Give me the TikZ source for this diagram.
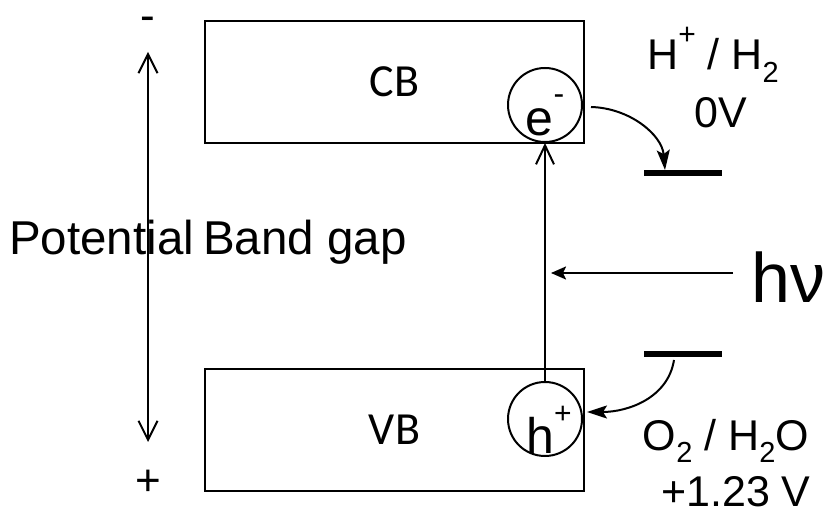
\documentclass[tikz,border=0pt]{standalone}
\usepackage{fontspec}
\setmainfont{Liberation Sans}
\newfontfamily\carl{Carlito}
\usetikzlibrary{arrows.meta}
\newcommand{\upr}[3]{\raisebox{#1}{\fontsize{#2}{#2}\selectfont #3}}
\newcommand{\fs}[1]{\fontsize{#1}{#1}\selectfont}
\tikzset{
  band/.style={draw, line width=2pt, minimum width=379pt, minimum height=122pt, inner sep=0pt, font=\carl\fs{46}},
  carrier/.style={draw, circle, line width=2pt, minimum size=74pt, inner sep=0pt},
  txt/.style={inner sep=0pt, anchor=base},
  level/.style={line width=6pt},
  barb/.style={line width=2pt, {Straight Barb[length=19pt,width=19pt,line width=2pt]}-{Straight Barb[length=19pt,width=19pt,line width=2pt]}},
  barbto/.style={line width=2pt, -{Straight Barb[length=19pt,width=18pt,line width=2pt]}},
  solid arrow/.style={line width=2pt, -{Stealth[length=20pt,width=13pt,inset=4pt]}},
}
\begin{document}
\begin{tikzpicture}[x=1pt,y=-1pt]
\useasboundingbox (0,0) rectangle (825,510);
% bands
\node[band] (cb) at (394.5,82) {CB};
\node[band] (vb) at (394.5,430) {VB};
% carriers
\node[carrier] (ec) at (545,105) {};
\node[carrier] (hc) at (545,419) {};
\node[txt, font=\fs{50}] (et) at (545,136) {e\upr{0.62em}{32}{-}};
\node[txt, font=\fs{50}] (ht) at (549,454) {h\upr{0.62em}{30}{+}};
% excitation
\draw[barbto] (hc.north) -- (ec.south);
% potential axis
\node[txt, font=\fs{44}] (minus) at (148,31) {-};
\node[txt, font=\fs{44}] (plus) at (148,496) {+};
\coordinate (ptop) at (148,52);
\coordinate (pbot) at (148,442);
\draw[barb] (ptop) -- (pbot);
\node[txt, anchor=base west, font=\fs{47.5}] (pot) at (9,255) {Potential};
\node[txt, anchor=base west, font=\fs{47.5}] (gap) at (203,255) {Band gap};
% light
\node[txt, anchor=base west, font=\fs{70}] (hv) at (751,303) {hν};
\coordinate (hvs) at (733,273);
\coordinate (hve) at (551,273);
\draw[-{Stealth[length=15pt,width=13pt,inset=3pt]}, line width=2pt] (hvs) -- (hve);
% redox levels
\draw[level] (644,173) -- (722,173);
\draw[level] (644,354) -- (722,354);
\node[txt, font=\fs{43}] (hh) at (713,70) {H\upr{0.6em}{30}{+} / H\upr{-13pt}{29}{2}};
\node[txt, font=\fs{43}] (zv) at (721,128) {0V};
\node[txt, font=\fs{43}] (oo) at (726,451) {O\upr{-12pt}{29}{2} / H\upr{-12pt}{29}{2}O};
\node[txt, font=\fs{43}] (pv) at (736,507) {+1.23 V};
% transfers
\coordinate (e1) at (591,107);
\coordinate (e2) at (665,170);
\draw[solid arrow] (e1) .. controls (630,108) and (662,135) .. (e2);
\coordinate (o1) at (674,360);
\coordinate (o2) at (587,412);
\draw[solid arrow] (o1) .. controls (668,398) and (628,412) .. (o2);
\end{tikzpicture}
\end{document}
